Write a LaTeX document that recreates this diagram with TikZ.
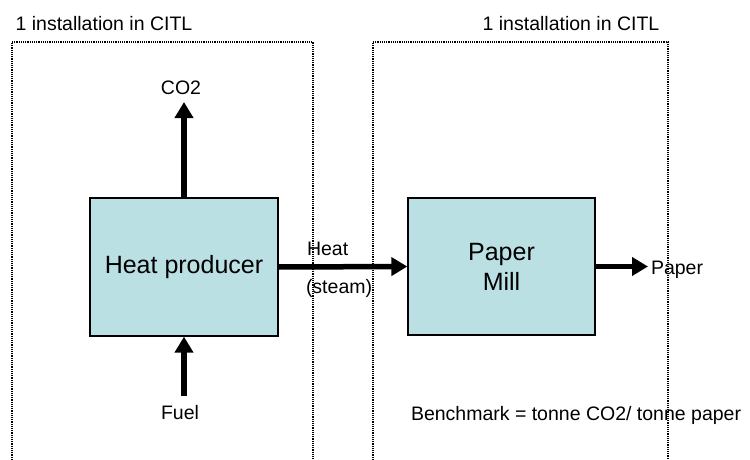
\documentclass[tikz,border=0pt]{standalone}
\usepackage{fontspec}
\setmainfont{Liberation Sans}
\usetikzlibrary{arrows.meta}
\definecolor{boxfill}{RGB}{187,224,227}
\tikzset{
  unitbox/.style={draw=black, line width=1.3pt, fill=boxfill, inner sep=0pt,
    font=\fontsize{25}{30}\selectfont, align=center},
  lbl/.style={font=\fontsize{19.5}{23}\selectfont, inner sep=0pt, outer sep=0pt,
    text height=14pt, text depth=4pt},
  flow/.style={line width=5.5pt, -{Triangle[width=18pt,length=16pt]}},
  fence/.style={line width=1.5pt, dash pattern=on 1.2pt off 1pt}
}
\begin{document}
\begin{tikzpicture}[x=1pt,y=-1pt]
  \useasboundingbox (0,0) rectangle (750,460);

  % installation boundaries (open at the bottom)
  \coordinate (fl1) at (12,460);
  \coordinate (fr1) at (313,460);
  \coordinate (fl2) at (373,460);
  \coordinate (fr2) at (668,460);
  \draw[fence] (fl1) |- (313,42) -- (fr1);
  \draw[fence] (fl2) |- (668,42) -- (fr2);

  \node[lbl] (title1) at (104,26) {1 installation in CITL};
  \node[lbl] (title2) at (571,26) {1 installation in CITL};

  % process units
  \node[unitbox, minimum width=188pt, minimum height=138pt] (hp) at (184,267) {Heat producer};
  \node[unitbox, minimum width=187pt, minimum height=137pt] (pm) at (501.5,266.5) {Paper\\Mill};

  % labels
  \node[lbl, anchor=south] (co2) at (181,99) {CO2};
  \node[lbl, anchor=north] (fuel) at (180,405) {Fuel};
  \node[lbl, anchor=west] (heat) at (307,250) {Heat};
  \node[lbl, anchor=west] (steam) at (306,288) {(steam)};
  \node[lbl, anchor=west] (paper) at (651,269) {Paper};
  \node[lbl, anchor=west] (bench) at (411,415) {Benchmark = tonne CO2/ tonne paper};

  % flows
  \draw[flow, shorten >=3pt] (hp.north) -- (co2.south -| hp.north);
  \draw[flow, shorten <=9pt] (fuel.north -| hp.south) -- (hp.south);
  \draw[flow] (hp.east) -- (pm.west);
  \draw[flow, shorten >=3pt] (pm.east) -- (paper.west |- pm.east);
\end{tikzpicture}
\end{document}
